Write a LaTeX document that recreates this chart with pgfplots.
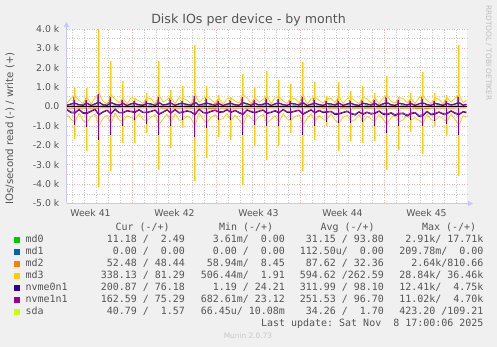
\documentclass[border=0pt]{standalone}
\usepackage{fontspec}
\setmainfont{DejaVu Sans}
\newfontfamily\monofont{DejaVu Sans Mono}
\usepackage{pgfplots}
\usepackage{pgfplotstable}
\pgfplotsset{compat=1.18}
\usetikzlibrary{arrows.meta}

\definecolor{cmdzero}{HTML}{00CC00}
\definecolor{cmdone}{HTML}{0066B3}
\definecolor{cmdtwo}{HTML}{FF8000}
\definecolor{cmdthree}{HTML}{FFCC00}
\definecolor{cnvzero}{HTML}{330099}
\definecolor{cnvone}{HTML}{990099}
\definecolor{csda}{HTML}{CCFF00}
\definecolor{bgc}{HTML}{F0F0F0}
\definecolor{txt}{HTML}{555555}
\definecolor{majgrid}{HTML}{F0B4B4}
\definecolor{mingrid}{HTML}{CCCCCC}
\definecolor{axiscol}{HTML}{C8C8F4}
\definecolor{paleyel}{HTML}{FFE590}

\pgfplotstableread{
x md3w md3r nv0w nv0r nv1w nv1r md0w
0.05 0.18 -0.40 0.06 -0.20 0.08 -0.15 0.04
0.38 0.42 -0.66 0.12 -0.33 0.14 -0.28 0.10
0.70 0.55 -0.80 0.15 -0.35 0.18 -0.30 0.20
1.05 0.30 -0.35 0.09 -0.18 0.10 -0.14 0.03
1.38 0.15 -0.72 0.05 -0.36 0.07 -0.31 0.12
1.70 0.50 -0.85 0.16 -0.38 0.18 -0.32 0.22
2.05 0.12 -0.52 0.04 -0.26 0.06 -0.22 0.05
2.38 0.46 -0.38 0.13 -0.17 0.15 -0.13 0.08
2.70 0.70 -1.00 0.20 -0.45 0.22 -0.40 0.30
3.05 0.26 -0.60 0.08 -0.30 0.10 -0.26 0.04
3.38 0.14 -0.45 0.05 -0.21 0.07 -0.18 0.15
3.70 0.60 -0.90 0.18 -0.40 0.20 -0.36 0.25
4.05 0.38 -0.34 0.11 -0.16 0.13 -0.12 0.06
4.38 0.20 -0.70 0.06 -0.34 0.08 -0.30 0.03
4.70 0.45 -0.75 0.15 -0.34 0.17 -0.30 0.18
5.05 0.13 -0.48 0.04 -0.24 0.06 -0.20 0.05
5.38 0.44 -0.58 0.13 -0.28 0.15 -0.24 0.11
5.70 0.40 -0.70 0.14 -0.32 0.16 -0.28 0.15
6.05 0.28 -0.36 0.08 -0.19 0.10 -0.15 0.04
6.38 0.16 -0.68 0.05 -0.33 0.07 -0.29 0.09
6.70 0.45 -0.72 0.15 -0.33 0.17 -0.29 0.18
7.05 0.40 -0.55 0.12 -0.27 0.14 -0.23 0.06
7.38 0.12 -0.42 0.04 -0.20 0.06 -0.17 0.13
7.70 0.60 -0.95 0.18 -0.42 0.20 -0.37 0.25
8.05 0.22 -0.64 0.07 -0.31 0.09 -0.27 0.03
8.38 0.36 -0.40 0.11 -0.19 0.13 -0.16 0.07
8.70 0.48 -0.80 0.16 -0.35 0.18 -0.31 0.20
9.05 0.15 -0.38 0.05 -0.18 0.07 -0.15 0.05
9.38 0.45 -0.71 0.13 -0.35 0.15 -0.30 0.12
9.70 0.42 -0.68 0.14 -0.31 0.16 -0.27 0.16
10.05 0.32 -0.50 0.10 -0.25 0.12 -0.21 0.04
10.38 0.14 -0.62 0.05 -0.30 0.07 -0.26 0.09
10.70 0.65 -1.00 0.19 -0.44 0.21 -0.39 0.28
11.05 0.20 -0.33 0.06 -0.16 0.08 -0.13 0.06
11.38 0.41 -0.67 0.12 -0.33 0.14 -0.29 0.03
11.70 0.50 -0.85 0.16 -0.36 0.18 -0.32 0.20
12.05 0.35 -0.56 0.11 -0.27 0.13 -0.23 0.05
12.38 0.17 -0.44 0.05 -0.21 0.07 -0.18 0.14
12.70 0.42 -0.70 0.14 -0.31 0.16 -0.27 0.16
13.05 0.13 -0.62 0.04 -0.30 0.06 -0.26 0.04
13.38 0.39 -0.37 0.12 -0.18 0.14 -0.15 0.08
13.70 0.44 -0.72 0.15 -0.32 0.17 -0.28 0.17
14.05 0.27 -0.45 0.08 -0.22 0.10 -0.19 0.06
14.38 0.18 -0.69 0.06 -0.34 0.08 -0.29 0.04
14.70 0.62 -0.98 0.18 -0.43 0.20 -0.38 0.26
15.05 0.43 -0.39 0.13 -0.19 0.15 -0.16 0.05
15.38 0.15 -0.60 0.05 -0.29 0.07 -0.25 0.12
15.70 0.46 -0.78 0.15 -0.34 0.17 -0.30 0.19
16.05 0.21 -0.53 0.07 -0.26 0.09 -0.22 0.03
16.38 0.37 -0.41 0.11 -0.20 0.13 -0.17 0.07
16.70 0.55 -0.88 0.16 -0.37 0.18 -0.33 0.22
17.05 0.14 -0.66 0.04 -0.32 0.06 -0.28 0.05
17.38 0.44 -0.48 0.13 -0.24 0.15 -0.20 0.10
17.70 0.50 -0.82 0.16 -0.35 0.18 -0.31 0.20
18.05 0.29 -0.36 0.09 -0.17 0.11 -0.14 0.06
18.38 0.16 -0.63 0.05 -0.31 0.07 -0.27 0.04
18.70 0.44 -0.72 0.15 -0.32 0.17 -0.28 0.17
19.05 0.40 -0.52 0.12 -0.26 0.14 -0.22 0.05
19.38 0.19 -0.43 0.06 -0.21 0.08 -0.18 0.13
19.70 0.60 -0.95 0.18 -0.42 0.20 -0.37 0.25
20.05 0.12 -0.61 0.04 -0.30 0.06 -0.26 0.04
20.38 0.38 -0.39 0.11 -0.19 0.13 -0.16 0.08
20.70 0.48 -0.78 0.15 -0.34 0.17 -0.30 0.19
21.05 0.31 -0.47 0.09 -0.23 0.11 -0.19 0.06
21.38 0.17 -0.65 0.05 -0.32 0.07 -0.28 0.03
21.70 0.40 -0.66 0.14 -0.30 0.16 -0.26 0.15
22.05 0.42 -0.38 0.12 -0.28 0.14 -0.24 0.05
22.38 0.20 -0.70 0.06 -0.42 0.08 -0.37 0.11
22.70 0.52 -0.86 0.16 -0.40 0.18 -0.36 0.21
23.05 0.16 -0.55 0.05 -0.33 0.07 -0.29 0.04
23.38 0.40 -0.46 0.12 -0.27 0.14 -0.23 0.09
23.70 0.46 -0.78 0.15 -0.38 0.17 -0.34 0.18
24.05 0.28 -0.68 0.08 -0.45 0.10 -0.40 0.06
24.38 0.15 -0.42 0.05 -0.30 0.07 -0.26 0.04
24.70 0.48 -0.80 0.16 -0.42 0.18 -0.37 0.19
25.05 0.39 -0.50 0.12 -0.32 0.14 -0.28 0.05
25.38 0.18 -0.64 0.06 -0.40 0.08 -0.35 0.12
25.70 0.44 -0.76 0.15 -0.37 0.17 -0.33 0.18
26.05 0.14 -0.40 0.04 -0.26 0.06 -0.22 0.04
26.38 0.43 -0.66 0.13 -0.41 0.15 -0.36 0.08
26.70 0.58 -0.92 0.18 -0.44 0.20 -0.39 0.24
27.05 0.26 -0.57 0.08 -0.36 0.10 -0.31 0.06
27.38 0.17 -0.45 0.05 -0.48 0.07 -0.42 0.03
27.70 0.46 -0.80 0.15 -0.40 0.17 -0.35 0.19
28.05 0.41 -0.69 0.12 -0.38 0.14 -0.33 0.05
28.38 0.19 -0.43 0.06 -0.50 0.08 -0.44 0.10
28.70 0.42 -0.70 0.14 -0.39 0.16 -0.34 0.16
29.05 0.15 -0.58 0.05 -0.34 0.07 -0.30 0.04
29.38 0.45 -0.72 0.13 -0.52 0.15 -0.46 0.12
29.70 0.55 -0.88 0.17 -0.48 0.19 -0.42 0.22
30.05 0.30 -0.41 0.09 -0.28 0.11 -0.24 0.06
30.38 0.16 -0.67 0.05 -0.44 0.07 -0.39 0.04
30.70 0.44 -0.74 0.15 -0.40 0.17 -0.35 0.17
31.05 0.37 -0.52 0.11 -0.31 0.13 -0.27 0.05
31.38 0.13 -0.62 0.04 -0.41 0.06 -0.36 0.09
31.70 0.46 -0.78 0.15 -0.39 0.17 -0.34 0.18
32.05 0.22 -0.39 0.07 -0.25 0.09 -0.21 0.04
32.38 0.42 -0.66 0.12 -0.37 0.14 -0.32 0.11
32.70 0.62 -0.96 0.18 -0.44 0.20 -0.39 0.25
33.05 0.19 -0.47 0.06 -0.29 0.08 -0.25 0.05
33.33 0.33 -0.55 0.10 -0.33 0.12 -0.29 0.07
}\basetab

\pgfplotstableread{
x xg md3w md3r nv0w nv0r nv1w nv1r md0w
0.70 0.55 0.95 -1.70 0.30 -0.95 0.35 -0.85 0.50
1.70 1.55 0.95 -2.28 0.30 -1.08 0.35 -0.95 0.45
2.70 2.55 4.00 -4.17 0.55 -1.75 0.62 -1.60 0.62
3.70 3.55 2.32 -3.35 0.45 -1.46 0.50 -1.30 0.55
4.70 4.55 1.32 -1.89 0.30 -1.00 0.35 -0.90 0.40
5.70 5.55 0.45 -1.90 0.22 -0.69 0.26 -0.62 0.30
6.70 6.55 0.70 -1.35 0.26 -0.90 0.30 -0.80 0.35
7.70 7.55 2.36 -3.27 0.45 -1.46 0.50 -1.30 0.50
8.70 8.55 0.86 -2.13 0.30 -1.00 0.35 -0.90 0.42
9.70 9.55 1.07 -1.10 0.22 -0.70 0.26 -0.62 0.30
10.70 10.55 3.18 -3.86 0.50 -1.60 0.56 -1.45 0.55
11.70 11.55 1.07 -2.65 0.32 -1.10 0.36 -0.98 0.45
12.70 12.55 0.60 -1.55 0.22 -0.70 0.26 -0.62 0.38
13.70 13.55 0.50 -1.72 0.22 -0.70 0.26 -0.62 0.33
14.70 14.55 1.67 -4.04 0.45 -1.46 0.50 -1.30 0.50
15.70 15.55 0.98 -2.06 0.30 -0.94 0.34 -0.85 0.40
16.70 16.55 1.84 -2.75 0.32 -1.00 0.36 -0.90 0.45
17.70 17.55 1.38 -2.06 0.32 -1.00 0.36 -0.90 0.40
18.70 18.55 1.15 -1.37 0.22 -0.70 0.26 -0.62 0.32
19.70 19.55 2.29 -3.35 0.45 -1.46 0.50 -1.30 0.52
20.70 20.55 1.26 -1.72 0.30 -1.00 0.34 -0.90 0.45
21.70 21.55 0.52 -1.03 0.24 -0.80 0.28 -0.72 0.30
22.70 22.55 1.26 -2.28 0.26 -0.85 0.30 -0.76 0.40
23.70 23.55 0.81 -1.80 0.26 -0.85 0.30 -0.76 0.35
24.70 24.55 1.03 -1.89 0.24 -0.80 0.28 -0.72 0.38
25.70 25.55 0.70 -1.80 0.30 -1.00 0.34 -0.90 0.40
26.70 26.55 1.55 -3.30 0.42 -1.35 0.46 -1.20 0.50
27.70 27.55 0.50 -2.23 0.30 -1.00 0.34 -0.90 0.35
28.70 28.55 0.70 -1.30 0.22 -0.70 0.26 -0.62 0.32
29.70 29.55 1.77 -2.45 0.32 -1.03 0.36 -0.92 0.55
30.70 30.55 0.70 -1.00 0.24 -0.77 0.28 -0.70 0.30
31.70 31.55 0.60 -1.50 0.26 -0.90 0.30 -0.80 0.35
32.70 32.55 3.18 -3.60 0.45 -1.46 0.50 -1.30 0.55
}\spiketab

\newcommand{\lgf}{\monofont\fontsize{9.97}{12}\selectfont}

\begin{document}
\begin{tikzpicture}
\useasboundingbox (0pt,0pt) rectangle (497pt,347pt);
\fill[bgc] (0pt,0pt) rectangle (497pt,347pt);
\begin{axis}[
  at={(66.5pt,143.5pt)}, anchor=south west,
  scale only axis, width=400.5pt, height=174.7pt,
  xmin=0, xmax=33.375, ymin=-5, ymax=4,
  axis background/.style={fill=white},
  axis lines=left,
  axis line style={draw=axiscol, line width=0.8pt},
  x axis line style={-{Triangle[length=5pt,width=5pt]}, shorten >=-6pt},
  y axis line style={-{Triangle[length=5pt,width=5pt]}, shorten >=-7pt},
  xtick={5.5,12.5,19.5,26.5}, xticklabels={,,,},
  minor xtick={0.5,1.5,...,32.5},
  extra x ticks={2,9,16,23,30},
  extra x tick labels={Week 41,Week 42,Week 43,Week 44,Week 45},
  extra x tick style={grid=none, major tick length=0pt},
  ytick={-5,-4,...,4},
  yticklabels={-5.0 k,-4.0 k,-3.0 k,-2.0 k,-1.0 k,0.0,1.0 k,2.0 k,3.0 k,4.0 k},
  minor y tick num=1,
  grid=both,
  major grid style={draw=majgrid, line width=0.5pt, dash pattern=on 1pt off 1.5pt},
  minor grid style={draw=mingrid, line width=0.5pt, dash pattern=on 1pt off 1.5pt},
  major tick length=0pt, minor tick length=0pt,
  tick label style={font=\fontsize{9.3}{11}\selectfont, text=txt},
  yticklabel style={anchor=east, inner sep=0pt, xshift=-7pt},
  xticklabel style={anchor=north, inner sep=0pt, yshift=-5.5pt},
  every axis plot/.append style={no markers, line width=0.8pt},
]
% md0
\addplot[cmdzero] coordinates {(0,-0.03) (8,-0.04) (16,-0.03) (24,-0.04) (33.33,-0.03)};
\addplot[cmdzero] table[x=x,y=md0w]{\basetab};
\addplot[cmdzero, ycomb, line width=0.9pt] table[x=xg,y=md0w]{\spiketab};
% md1
\addplot[cmdone] coordinates {(0,0) (33.33,0)};
% md2
\addplot[cmdtwo] coordinates {(0,-0.09) (6,-0.08) (12,-0.10) (18,-0.08) (24,-0.09) (30,-0.10) (33.33,-0.08)};
\addplot[cmdtwo] coordinates {(0,0.03) (8,0.04) (16,0.03) (24,0.04) (33.33,0.03)};
% md3
\addplot[paleyel, ycomb, line width=2.2pt] table[x=x,y=md3w]{\spiketab};
\addplot[paleyel, ycomb, line width=2.2pt] table[x=x,y=md3r]{\spiketab};
\addplot[cmdthree] table[x=x,y=md3r]{\basetab};
\addplot[cmdthree] table[x=x,y=md3w]{\basetab};
\addplot[cmdthree, ycomb, line width=0.9pt] table[x=x,y=md3w]{\spiketab};
\addplot[cmdthree, ycomb, line width=0.9pt] table[x=x,y=md3r]{\spiketab};
% nvme0n1
\addplot[cnvzero] table[x=x,y=nv0r]{\basetab};
\addplot[cnvzero] table[x=x,y=nv0w]{\basetab};
\addplot[cnvzero, ycomb, line width=0.9pt] table[x=x,y=nv0r]{\spiketab};
\addplot[cnvzero, ycomb, line width=0.9pt] table[x=x,y=nv0w]{\spiketab};
% nvme1n1
\addplot[cnvone] table[x=x,y=nv1r]{\basetab};
\addplot[cnvone] table[x=x,y=nv1w]{\basetab};
\addplot[cnvone, ycomb, line width=0.9pt] table[x=x,y=nv1r]{\spiketab};
\addplot[cnvone, ycomb, line width=0.9pt] table[x=x,y=nv1w]{\spiketab};
% sda
\addplot[csda] coordinates {(0,-0.03) (10,-0.04) (20,-0.03) (33.33,-0.04)};
\addplot[csda] coordinates {(0,0.01) (33.33,0.01)};
% zero rule
\addplot[black, line width=0.8pt] coordinates {(0,0) (33.375,0)};
\end{axis}

% title and labels
\node[anchor=base, inner sep=0pt, font=\fontsize{12.6}{14}\selectfont, text=txt] at (248.5pt,323.5pt) {Disk IOs per device - by month};
\node[anchor=base, rotate=90, inner sep=0pt, font=\fontsize{10.2}{12}\selectfont, text=txt] at (13pt,218.5pt) {IOs/second read (-) / write (+)};
\node[anchor=base west, rotate=-90, inner sep=0pt, font=\fontsize{7.4}{9}\selectfont, text=black!25] at (486pt,342pt) {RRDTOOL / TOBI OETIKER};

% legend
\begin{scope}[every node/.style={inner sep=0pt, font=\lgf, text=txt}]
\node[anchor=base west] at (115.5pt,116pt) {Cur~(-/+)};
\node[anchor=base west] at (219pt,116pt) {Min~(-/+)};
\node[anchor=base west] at (320.5pt,116pt) {Avg~(-/+)};
\node[anchor=base west] at (422pt,116pt) {Max~(-/+)};

\fill[cmdzero] (14pt,104pt) rectangle (20pt,109.8pt);
\node[anchor=base west] at (25.5pt,104pt) {md0};
\node[anchor=base east] at (185pt,104pt) {11.18~/~~2.49~};
\node[anchor=base east] at (285pt,104pt) {3.61m/~~0.00~};
\node[anchor=base east] at (384pt,104pt) {31.15~/~93.80~};
\node[anchor=base east] at (483.5pt,104pt) {2.91k/~17.71k};

\fill[cmdone] (14pt,92pt) rectangle (20pt,97.8pt);
\node[anchor=base west] at (25.5pt,92pt) {md1};
\node[anchor=base east] at (185pt,92pt) {0.00~/~~0.00~};
\node[anchor=base east] at (285pt,92pt) {0.00~/~~0.00~};
\node[anchor=base east] at (384pt,92pt) {112.50u/~~0.00~};
\node[anchor=base east] at (483.5pt,92pt) {209.78m/~~0.00~};

\fill[cmdtwo] (14pt,80pt) rectangle (20pt,85.8pt);
\node[anchor=base west] at (25.5pt,80pt) {md2};
\node[anchor=base east] at (185pt,80pt) {52.48~/~48.44~};
\node[anchor=base east] at (285pt,80pt) {58.94m/~~8.45~};
\node[anchor=base east] at (384pt,80pt) {87.62~/~32.36~};
\node[anchor=base east] at (483.5pt,80pt) {2.64k/810.66~};

\fill[cmdthree] (14pt,68pt) rectangle (20pt,73.8pt);
\node[anchor=base west] at (25.5pt,68pt) {md3};
\node[anchor=base east] at (185pt,68pt) {338.13~/~81.29~};
\node[anchor=base east] at (285pt,68pt) {506.44m/~~1.91~};
\node[anchor=base east] at (384pt,68pt) {594.62~/262.59~};
\node[anchor=base east] at (483.5pt,68pt) {28.84k/~36.46k};

\fill[cnvzero] (14pt,56pt) rectangle (20pt,61.8pt);
\node[anchor=base west] at (25.5pt,56pt) {nvme0n1};
\node[anchor=base east] at (185pt,56pt) {200.87~/~76.18~};
\node[anchor=base east] at (285pt,56pt) {1.19~/~24.21~};
\node[anchor=base east] at (384pt,56pt) {311.99~/~98.10~};
\node[anchor=base east] at (483.5pt,56pt) {12.41k/~~4.75k};

\fill[cnvone] (14pt,44pt) rectangle (20pt,49.8pt);
\node[anchor=base west] at (25.5pt,44pt) {nvme1n1};
\node[anchor=base east] at (185pt,44pt) {162.59~/~75.29~};
\node[anchor=base east] at (285pt,44pt) {682.61m/~23.12~};
\node[anchor=base east] at (384pt,44pt) {251.53~/~96.70~};
\node[anchor=base east] at (483.5pt,44pt) {11.02k/~~4.70k};

\fill[csda] (14pt,32pt) rectangle (20pt,37.8pt);
\node[anchor=base west] at (25.5pt,32pt) {sda};
\node[anchor=base east] at (185pt,32pt) {40.79~/~~1.57~};
\node[anchor=base east] at (285pt,32pt) {66.45u/~10.08m};
\node[anchor=base east] at (384pt,32pt) {34.26~/~~1.70~};
\node[anchor=base east] at (483.5pt,32pt) {423.20~/109.21~};

\node[anchor=base east] at (483.5pt,20pt) {Last~update:~Sat~Nov~~8~17:00:06~2025};
\end{scope}
\node[anchor=base, inner sep=0pt, font=\fontsize{7.4}{9}\selectfont, text=black!22] at (248pt,8.5pt) {Munin 2.0.73};
\end{tikzpicture}
\end{document}
